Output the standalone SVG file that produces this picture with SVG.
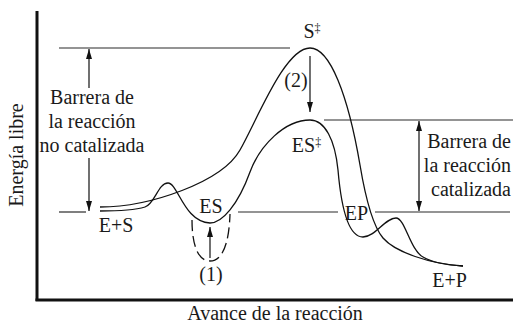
<svg xmlns="http://www.w3.org/2000/svg" width="513" height="324" viewBox="0 0 513 324">
  <style>
    text { font-family: 'Liberation Serif', 'DejaVu Serif', serif; font-size: 20px; fill: #1a1a1a; }
    .m { text-anchor: middle; }
    .e { text-anchor: end; }
    .sup { font-size: 12px; }
    .lvl { stroke: #2a2a2a; stroke-width: 1.2; fill: none; }
    .crv { stroke: #111; stroke-width: 1.3; fill: none; }
    .arr { stroke: #111; stroke-width: 1.2; fill: none; }
    .ax { stroke: #111; stroke-width: 3; fill: none; }
  </style>
  <defs>
    <marker id="ah" markerUnits="userSpaceOnUse" markerWidth="10" markerHeight="7" refX="10" refY="3.5" orient="auto">
      <path d="M0,0.5 L10,3.5 L0,6.5 Z" fill="#111"/>
    </marker>
  </defs>
  <rect width="513" height="324" fill="#fff"/>

  <g id="axes">
    <line class="ax" x1="37" y1="11" x2="37" y2="301"/>
    <line class="ax" x1="35.5" y1="300" x2="513" y2="300"/>
  </g>

  <g id="levels">
    <line class="lvl" x1="59" y1="48" x2="290" y2="48"/>
    <line class="lvl" x1="324" y1="120" x2="513" y2="120"/>
    <line class="lvl" x1="59" y1="212" x2="86" y2="212"/>
    <line class="lvl" x1="238" y1="212" x2="338" y2="212"/>
    <line class="lvl" x1="375" y1="212" x2="510" y2="212"/>
  </g>

  <g id="curves">
    <path id="uncatalyzed" class="crv" d="M100,207 C150,207 222,182 240,150 C258,118 285,48 310,48 C330,48 348,95 360,165 C365,195 372,225 383,238 C395,252 430,264 463,266"/>
    <path id="catalyzed" class="crv" d="M100,211 C120,211 135,210 145,207 C155,204 158,183 168,183 C178,183 184,222 210,223 C222,223 238,205 250,172 C260,145 285,120 310,120 C325,120 335,140 338,170 C341,205 348,237 363,237 C375,237 385,218 396,218 C405,218 410,250 423,257 C433,263 445,265 463,266"/>
    <path id="well" class="crv" stroke-dasharray="11 5" d="M192,220 C192,245 198,261 210,261 C222,261 229,245 230,214"/>
  </g>

  <g id="connectors">
    <line class="arr" x1="89" y1="88" x2="89" y2="49" marker-end="url(#ah)"/>
    <line class="arr" x1="89" y1="158" x2="89" y2="211" marker-end="url(#ah)"/>
    <line class="arr" x1="419" y1="166" x2="419" y2="121" marker-end="url(#ah)"/>
    <line class="arr" x1="419" y1="166" x2="419" y2="211" marker-end="url(#ah)"/>
    <line class="arr" x1="310" y1="56" x2="310" y2="112" marker-end="url(#ah)"/>
    <line class="arr" x1="210" y1="258" x2="210" y2="227" marker-end="url(#ah)"/>
  </g>

  <g id="label-s-ts"><text class="m" x="312" y="38">S<tspan class="sup" dy="-6">‡</tspan></text></g>
  <g id="label-es-ts"><text class="m" x="306.5" y="152">ES<tspan class="sup" dy="-6">‡</tspan></text></g>
  <g id="label-2"><text class="m" x="296" y="87">(2)</text></g>
  <g id="label-es"><text class="m" x="211" y="213">ES</text></g>
  <g id="label-1"><text class="m" x="211" y="281">(1)</text></g>
  <g id="label-e-s"><text class="m" x="116" y="232">E+S</text></g>
  <g id="label-ep"><text class="m" x="356.5" y="219.5">EP</text></g>
  <g id="label-e-p"><text class="m" x="449.5" y="287">E+P</text></g>
  <g id="label-uncat">
    <text class="m" x="92" y="104">Barrera de</text>
    <text class="m" x="92" y="128">la reacción</text>
    <text class="m" x="92" y="152">no catalizada</text>
  </g>
  <g id="label-cat">
    <text class="e" x="511" y="147.5">Barrera de</text>
    <text class="e" x="511" y="172">la reacción</text>
    <text class="e" x="511" y="196">catalizada</text>
  </g>
  <g id="axis-y-label"><text class="m" transform="translate(23,155) rotate(-90)">Energía libre</text></g>
  <g id="axis-x-label"><text class="m" x="275" y="320">Avance de la reacción</text></g>
</svg>
